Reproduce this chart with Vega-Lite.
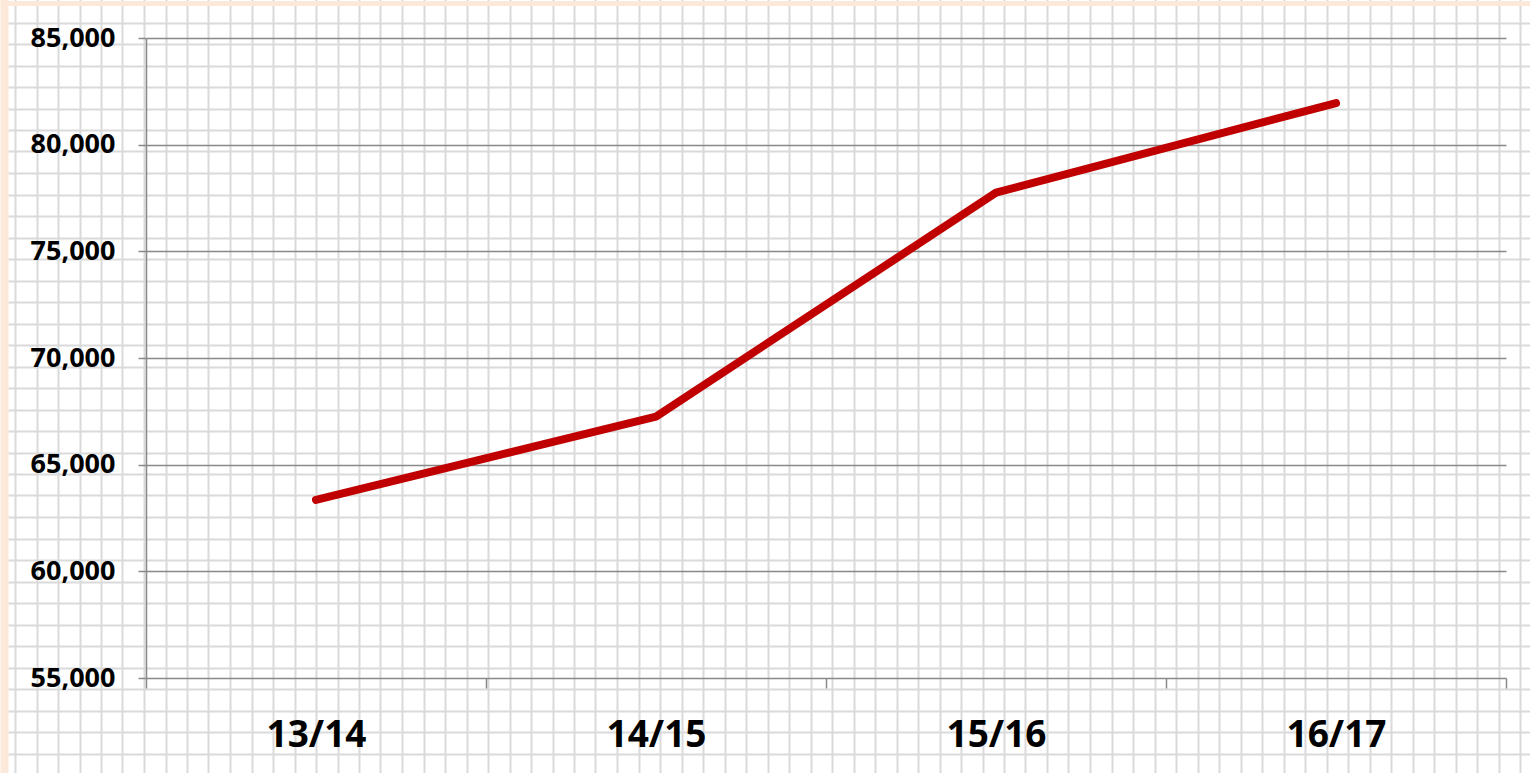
{
  "$schema": "https://vega.github.io/schema/vega-lite/v6.json",
  "usermeta": {"embedOptions": {"actions": false}},
  "width": 1360,
  "height": 640,
  "autosize": {"type": "none"},
  "padding": {"left": 146, "top": 38, "right": 24, "bottom": 95},
  "background": "white",
  "config": {"view": {"stroke": null}},
  "resolve": {
    "scale": {"x": "independent", "y": "independent"},
    "axis": {"x": "independent", "y": "independent"}
  },
  "layer": [
    {
      "data": {"values": [{"d": 0}]},
      "mark": {"type": "point", "opacity": 0, "size": 0},
      "encoding": {
        "x": {
          "datum": 700,
          "type": "quantitative",
          "scale": {"domain": [0, 1530], "range": [-146, 1384], "nice": false, "zero": false},
          "axis": {
            "orient": "bottom",
            "values": [4, 15, 36.5, 58, 79.5, 101, 122.5, 144, 165.5, 187, 208.5, 230, 251.5, 273, 294.5, 316, 337.5, 359, 380.5, 402, 423.5, 445, 466.5, 488, 509.5, 531, 552.5, 574, 595.5, 617, 638.5, 660, 681.5, 703, 724.5, 746, 767.5, 789, 810.5, 832, 853.5, 875, 896.5, 918, 939.5, 961, 982.5, 1004, 1025.5, 1047, 1068.5, 1090, 1111.5, 1133, 1154.5, 1176, 1197.5, 1219, 1240.5, 1262, 1283.5, 1305, 1326.5, 1348, 1369.5, 1391, 1412.5, 1434, 1455.5, 1477, 1498.5, 1520],
            "grid": true,
            "gridColor": {"condition": {"test": "datum.value < 10", "value": "#FDE9D9"}, "value": "#DADADA"},
            "gridWidth": {"condition": {"test": "datum.value < 10", "value": 8}, "value": 2},
            "ticks": false,
            "labels": false,
            "domain": false,
            "title": null,
            "minExtent": 0,
            "maxExtent": 0
          }
        },
        "y": {
          "datum": 300,
          "type": "quantitative",
          "scale": {"domain": [-57, 773], "range": [-95, 735], "nice": false, "zero": false},
          "axis": {
            "orient": "left",
            "values": [2.5],
            "grid": true,
            "gridColor": "#FDE9D9",
            "gridWidth": 5,
            "ticks": false,
            "labels": false,
            "domain": false,
            "title": null,
            "minExtent": 0,
            "maxExtent": 0
          }
        }
      }
    },
    {
      "data": {"values": [{"d": 0}]},
      "mark": {"type": "point", "opacity": 0, "size": 0},
      "encoding": {
        "x": {
          "datum": 700,
          "type": "quantitative",
          "scale": {"domain": [8, 1530], "range": [-138, 1384], "nice": false, "zero": false},
          "axis": null
        },
        "y": {
          "datum": 300,
          "type": "quantitative",
          "scale": {"domain": [-57, 773], "range": [-95, 735], "nice": false, "zero": false},
          "axis": {
            "orient": "left",
            "values": [22.5, 44, 65.5, 87, 108.5, 130, 151.5, 173, 194.5, 216, 237.5, 259, 280.5, 302, 323.5, 345, 366.5, 388, 409.5, 431, 452.5, 474, 495.5, 517, 538.5, 560, 581.5, 603, 624.5, 646, 667.5, 689, 710.5, 732, 753.5],
            "grid": true,
            "gridColor": "#DADADA",
            "gridWidth": 2,
            "ticks": false,
            "labels": false,
            "domain": false,
            "title": null,
            "minExtent": 0,
            "maxExtent": 0
          }
        }
      }
    },
    {
      "data": {
        "values": [
          {"season": "13/14", "students": 63350},
          {"season": "14/15", "students": 67250},
          {"season": "15/16", "students": 77750},
          {"season": "16/17", "students": 81950}
        ]
      },
      "mark": {"type": "line", "color": "#C00000", "strokeWidth": 8, "strokeCap": "round", "strokeJoin": "round"},
      "encoding": {
        "x": {
          "field": "season",
          "type": "ordinal",
          "sort": null,
          "scale": {"type": "band", "paddingInner": 0, "paddingOuter": 0},
          "axis": {
            "orient": "bottom",
            "tickBand": "extent",
            "tickSize": 10,
            "tickColor": "#898989",
            "tickWidth": 1.5,
            "domain": false,
            "grid": false,
            "labelAngle": 0,
            "labelFont": "Open Sans",
            "labelFontWeight": "bold",
            "labelFontSize": 37,
            "labelColor": "black",
            "labelBaseline": "alphabetic",
            "labelPadding": 58,
            "title": null
          }
        },
        "y": {
          "field": "students",
          "type": "quantitative",
          "scale": {"domain": [55000, 85000], "nice": false, "zero": false},
          "axis": {
            "orient": "left",
            "values": [55000, 60000, 65000, 70000, 75000, 80000, 85000],
            "format": ",d",
            "labelFont": "Open Sans",
            "labelFontWeight": "bold",
            "labelFontSize": 27,
            "labelColor": "black",
            "labelPadding": 23,
            "tickSize": 8,
            "tickColor": "#898989",
            "tickWidth": 1.5,
            "domain": true,
            "domainColor": "#898989",
            "domainWidth": 1.5,
            "grid": true,
            "gridColor": "#898989",
            "gridWidth": 1.5,
            "title": null
          }
        }
      }
    }
  ]
}
